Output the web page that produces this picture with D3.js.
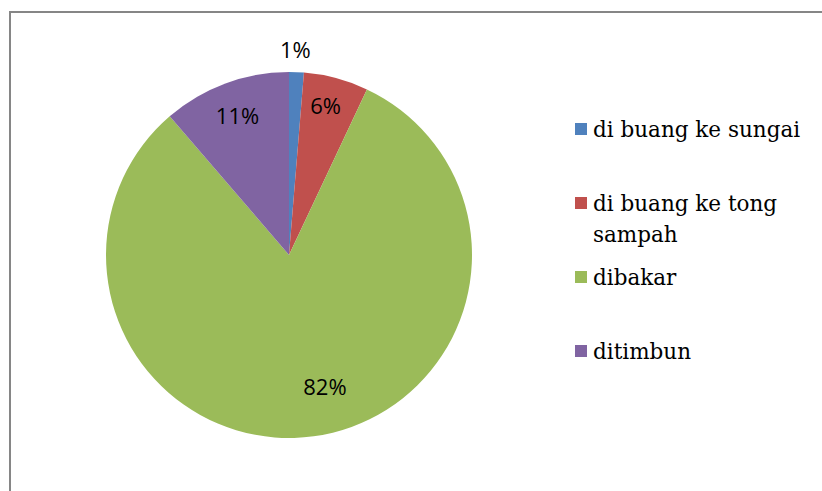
<!DOCTYPE html>
<html>
<head>
<meta charset="utf-8">
<script src="https://cdn.jsdelivr.net/npm/d3@7"></script>
<style>
  body { margin: 0; background: #fff; }
  svg { display: block; }
</style>
</head>
<body>
<div id="chart"></div>
<script>
// data
var categories = ["di buang ke sungai", "di buang ke tong sampah", "dibakar", "ditimbun"];
var values = [1.3, 5.7, 81.7, 11.3];
var labels = ["1%", "6%", "82%", "11%"];
var colors = ["#4f81bd", "#c0504d", "#9bbb59", "#8064a2"];

var width = 822, height = 491;
var cx = 289, cy = 255, radius = 183;

var svg = d3.select("#chart").append("svg")
  .attr("width", width)
  .attr("height", height);

// chart border
svg.append("rect")
  .attr("x", 10).attr("y", 12)
  .attr("width", 830).attr("height", 500)
  .attr("fill", "none")
  .attr("stroke", "#868686")
  .attr("stroke-width", 2);

var pie = d3.pie().sort(null).value(function(d){ return d; });
var arcs = pie(values);

var arc = d3.arc().innerRadius(0).outerRadius(radius);

var g = svg.append("g")
  .attr("transform", "translate(" + cx + "," + cy + ")");

g.selectAll("path")
  .data(arcs)
  .enter().append("path")
  .attr("d", arc)
  .attr("fill", function(d, i){ return colors[i]; });

// label placement (radius factor and angle nudge, like excel best fit)
var labelR = [1.12, 0.84, 0.75, 0.81];
var labelNudge = [-0.01, -0.02, -0.13, 0];

g.selectAll("text.lbl")
  .data(arcs)
  .enter().append("text")
  .attr("class", "lbl")
  .attr("x", function(d, i){
    var a = (d.startAngle + d.endAngle) / 2 + labelNudge[i];
    return Math.sin(a) * radius * labelR[i];
  })
  .attr("y", function(d, i){
    var a = (d.startAngle + d.endAngle) / 2 + labelNudge[i];
    return -Math.cos(a) * radius * labelR[i];
  })
  .attr("dy", "0.36em")
  .attr("text-anchor", "middle")
  .style("font-family", "'Open Sans', 'Liberation Sans', sans-serif")
  .style("font-size", "22px")
  .attr("fill", "#000")
  .text(function(d, i){ return labels[i]; });

// legend
var legendY = d3.scalePoint()
  .domain(categories)
  .range([129, 351]);

var lines = [["di buang ke sungai"], ["di buang ke tong", "sampah"], ["dibakar"], ["ditimbun"]];

var leg = svg.selectAll("g.leg")
  .data(categories)
  .enter().append("g")
  .attr("class", "leg")
  .attr("transform", function(d){
    return "translate(575," + legendY(d) + ")";
  });

leg.append("rect")
  .attr("x", 0).attr("y", -6)
  .attr("width", 12).attr("height", 12)
  .attr("fill", function(d, i){ return colors[i]; });

leg.append("text")
  .attr("x", 18)
  .attr("y", 0)
  .style("font-family", "'DejaVu Serif', serif")
  .style("font-size", "21.5px")
  .attr("fill", "#000")
  .each(function(d, i){
    var t = d3.select(this);
    lines[i].forEach(function(s, j){
      t.append("tspan")
        .attr("x", 18)
        .attr("dy", j == 0 ? "0.35em" : "1.45em")
        .text(s);
    });
  });
</script>
</body>
</html>
